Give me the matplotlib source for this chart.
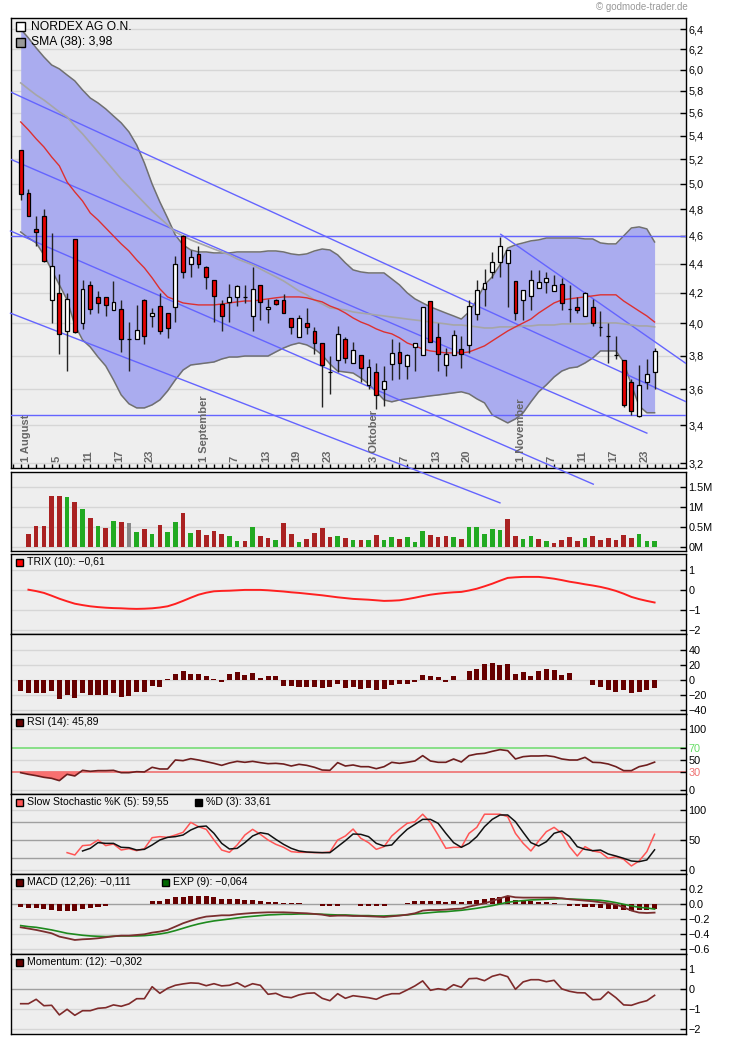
import numpy as np
import matplotlib
matplotlib.use("Agg")
import matplotlib.pyplot as plt
from matplotlib.patches import Rectangle
from matplotlib.transforms import blended_transform_factory
from matplotlib.ticker import FixedLocator, FixedFormatter, NullLocator

plt.rcParams['font.family'] = ['Liberation Sans', 'DejaVu Sans']

# ---------------------------------------------------------------- data
days = np.arange(83)

open_ = [5.28, 4.93, 4.65, 4.75, 4.15, 4.20, 3.95, 4.58, 4.00, 4.25,
         4.17, 4.17, 4.085, 4.09, 3.90, 3.90, 4.15, 4.05, 4.11, 4.07,
         4.105, 4.60, 4.40, 4.47, 4.375, 4.29, 4.125, 4.14, 4.17, 4.175,
         4.045, 4.25, 4.09, 4.155, 4.155, 4.035, 3.915, 4.00, 3.95, 3.875,
         3.70, 3.77, 3.90, 3.755, 3.805, 3.625, 3.70, 3.605, 3.75, 3.82,
         3.735, 3.85, 3.805, 4.145, 3.915, 3.74, 3.805, 3.84, 3.865, 4.06,
         4.225, 4.34, 4.41, 4.405, 4.28, 4.15, 4.18, 4.23, 4.275, 4.21,
         4.26, 4.095, 4.105, 4.05, 4.105, 3.98, 3.92, 3.805, 3.775, 3.645,
         3.45, 3.645, 3.70]
high = [5.28, 4.96, 4.75, 4.80, 4.62, 4.33, 4.20, 4.58, 4.29, 4.28,
        4.21, 4.17, 4.28, 4.15, 4.01, 4.12, 4.16, 4.10, 4.20, 4.07,
        4.455, 4.61, 4.50, 4.53, 4.385, 4.29, 4.15, 4.26, 4.25, 4.25,
        4.38, 4.25, 4.16, 4.16, 4.19, 4.035, 4.055, 4.10, 3.98, 3.875,
        3.80, 3.985, 3.915, 3.88, 3.805, 3.78, 3.755, 3.735, 3.90, 3.885,
        3.81, 3.875, 4.105, 4.145, 4.00, 3.845, 3.96, 3.92, 4.155, 4.29,
        4.36, 4.485, 4.595, 4.50, 4.28, 4.22, 4.355, 4.355, 4.34, 4.32,
        4.30, 4.255, 4.175, 4.205, 4.16, 4.08, 4.005, 3.92, 3.775, 3.66,
        3.745, 3.78, 3.845]
low = [4.87, 4.75, 4.53, 4.41, 4.00, 3.81, 3.71, 3.94, 3.965, 4.06,
       4.065, 4.05, 4.085, 3.82, 3.71, 3.90, 3.87, 3.98, 3.93, 3.91,
       4.01, 4.30, 4.31, 4.37, 4.225, 4.01, 3.95, 4.01, 4.11, 4.13,
       3.95, 4.02, 4.005, 4.12, 4.07, 3.93, 3.915, 3.93, 3.81, 3.50,
       3.575, 3.70, 3.755, 3.755, 3.645, 3.60, 3.49, 3.505, 3.655, 3.66,
       3.66, 3.705, 3.805, 3.88, 3.71, 3.675, 3.805, 3.725, 3.815, 4.02,
       4.115, 4.30, 4.31, 4.105, 4.02, 4.02, 4.085, 4.23, 4.20, 4.21,
       4.085, 4.01, 4.065, 4.05, 3.985, 3.92, 3.755, 3.78, 3.50, 3.455,
       3.445, 3.60, 3.605]
close = [4.92, 4.75, 4.63, 4.42, 4.385, 3.93, 4.16, 3.945, 4.225, 4.09,
         4.13, 4.12, 4.14, 3.90, 3.90, 3.96, 3.92, 4.07, 3.95, 3.97,
         4.40, 4.345, 4.45, 4.40, 4.31, 4.18, 4.05, 4.17, 4.245, 4.175,
         4.225, 4.14, 4.105, 4.125, 4.07, 3.975, 4.035, 3.98, 3.875, 3.745,
         3.70, 3.935, 3.785, 3.835, 3.725, 3.73, 3.57, 3.65, 3.815, 3.755,
         3.805, 3.875, 4.105, 3.88, 3.81, 3.81, 3.925, 3.81, 4.115, 4.22,
         4.27, 4.41, 4.53, 4.50, 4.07, 4.22, 4.29, 4.275, 4.30, 4.25,
         4.13, 4.095, 4.085, 4.20, 4.00, 3.98, 3.92, 3.805, 3.51, 3.475,
         3.625, 3.69, 3.825]

band_upper = [6.403, 6.311, 6.212, 6.123, 6.045, 6.007, 5.949, 5.893, 5.808, 5.734,
              5.689, 5.635, 5.572, 5.511, 5.432, 5.320, 5.169, 4.998, 4.857, 4.734,
              4.607, 4.535, 4.498, 4.484, 4.484, 4.477, 4.477, 4.477, 4.484, 4.484,
              4.484, 4.484, 4.491, 4.491, 4.484, 4.470, 4.463, 4.470, 4.491, 4.505,
              4.498, 4.463, 4.406, 4.357, 4.343, 4.336, 4.336, 4.336, 4.295, 4.254,
              4.200, 4.160, 4.133, 4.107, 4.087, 4.067, 4.048, 4.028, 4.074, 4.153,
              4.254, 4.309, 4.392, 4.512, 4.535, 4.549, 4.564, 4.571, 4.585, 4.585,
              4.585, 4.585, 4.585, 4.578, 4.578, 4.549, 4.542, 4.542, 4.600, 4.659,
              4.667, 4.652, 4.556]
band_lower = [4.629, 4.585, 4.549, 4.463, 4.357, 4.254, 4.153, 3.990, 3.896, 3.852,
              3.791, 3.737, 3.655, 3.568, 3.518, 3.495, 3.495, 3.512, 3.540, 3.591,
              3.655, 3.713, 3.743, 3.749, 3.755, 3.761, 3.779, 3.791, 3.791, 3.797,
              3.797, 3.797, 3.797, 3.822, 3.846, 3.865, 3.877, 3.865, 3.840, 3.803,
              3.749, 3.707, 3.701, 3.695, 3.666, 3.632, 3.586, 3.540, 3.529, 3.540,
              3.546, 3.551, 3.557, 3.563, 3.568, 3.574, 3.580, 3.586, 3.574, 3.546,
              3.523, 3.456, 3.434, 3.412, 3.434, 3.468, 3.529, 3.586, 3.626, 3.672,
              3.707, 3.725, 3.731, 3.755, 3.785, 3.828, 3.828, 3.828, 3.761, 3.626,
              3.506, 3.468, 3.468]
sma20 = [5.519, 5.449, 5.372, 5.303, 5.219, 5.145, 5.014, 4.935, 4.864, 4.772,
         4.719, 4.659, 4.600, 4.542, 4.491, 4.427, 4.371, 4.302, 4.227, 4.173,
         4.153, 4.133, 4.126, 4.120, 4.120, 4.120, 4.126, 4.133, 4.140, 4.146,
         4.146, 4.153, 4.160, 4.167, 4.173, 4.173, 4.173, 4.167, 4.153, 4.140,
         4.113, 4.094, 4.067, 4.035, 4.009, 3.990, 3.965, 3.946, 3.934, 3.909,
         3.877, 3.859, 3.840, 3.828, 3.822, 3.816, 3.816, 3.816, 3.822, 3.840,
         3.859, 3.890, 3.921, 3.952, 3.978, 4.003, 4.028, 4.067, 4.100, 4.133,
         4.153, 4.160, 4.167, 4.173, 4.180, 4.187, 4.187, 4.187, 4.146, 4.113,
         4.080, 4.048, 4.009]
sma38 = [5.874, 5.817, 5.762, 5.716, 5.662, 5.608, 5.564, 5.484, 5.415, 5.337,
         5.261, 5.186, 5.112, 5.038, 4.975, 4.911, 4.849, 4.787, 4.734, 4.682,
         4.629, 4.600, 4.571, 4.549, 4.527, 4.505, 4.484, 4.463, 4.434, 4.413,
         4.392, 4.364, 4.336, 4.309, 4.281, 4.247, 4.213, 4.187, 4.153, 4.126,
         4.100, 4.094, 4.087, 4.074, 4.067, 4.061, 4.054, 4.048, 4.041, 4.035,
         4.028, 4.022, 4.016, 4.009, 4.003, 3.997, 3.990, 3.990, 3.984, 3.978,
         3.971, 3.971, 3.978, 3.978, 3.978, 3.984, 3.984, 3.990, 3.990, 3.990,
         3.997, 3.997, 3.997, 3.997, 4.003, 4.003, 4.003, 4.003, 3.997, 3.990,
         3.984, 3.984, 3.978]

# trend channels: (start day, start price, end day, end price)
trend_lines = [(-1.32, 5.790, 86.0, 3.531),
               (-1.32, 5.200, 81.0, 3.357),
               (62.1, 4.612, 86.0, 3.754)]
trend_lines_free = [(-1.32, 4.066, 62.0, 3.003),
                    (-1.32, 4.637, 74.07, 3.094)]
levels = [4.60, 3.455]

volume_m = [np.nan,
            0.317, 0.517, 0.517, 1.267, 1.267, 1.242, 1.117, 0.942, 0.717, 0.517,
            0.467, 0.642, 0.617, 0.592, 0.367, 0.442, 0.317, 0.542, 0.367, 0.617,
            0.842, 0.342, 0.417, 0.292, 0.392, 0.317, 0.267, 0.142, 0.142, 0.492,
            0.267, 0.217, 0.167, 0.592, 0.317, 0.117, 0.192, 0.342, 0.467, 0.242,
            0.267, 0.217, 0.167, 0.167, 0.167, 0.292, 0.167, 0.242, 0.192, 0.242,
            0.117, 0.392, 0.292, 0.242, 0.267, 0.242, 0.192, 0.492, 0.492, 0.317,
            0.442, 0.417, 0.692, 0.267, 0.192, 0.267, 0.192, 0.142, 0.092, 0.167,
            0.242, 0.142, 0.217, 0.267, 0.167, 0.217, 0.167, 0.292, 0.217, 0.317,
            0.142, 0.142]
volume_dir = ("rrrrrgrgrg" "rgrngrgrgg" "rgrrrrggrg" "rrgrrgrrrr" "grgrgrggrg"
              "ggrrrgrggg" "ggrrggrgrr" "rrgrrrrrrg" "gg")

trix = [np.nan,
        0.03, -0.04, -0.13, -0.27, -0.42, -0.55, -0.67, -0.74, -0.80, -0.84,
        -0.87, -0.89, -0.90, -0.92, -0.93, -0.92, -0.90, -0.86, -0.80, -0.68,
        -0.53, -0.37, -0.22, -0.12, -0.05, -0.03, -0.02, 0.00, 0.02, 0.02,
        0.02, 0.00, -0.03, -0.06, -0.10, -0.13, -0.17, -0.21, -0.25, -0.30,
        -0.35, -0.39, -0.43, -0.45, -0.47, -0.50, -0.53, -0.52, -0.50, -0.44,
        -0.37, -0.29, -0.22, -0.17, -0.13, -0.10, -0.08, -0.01, 0.08, 0.20,
        0.33, 0.48, 0.62, 0.65, 0.67, 0.67, 0.67, 0.63, 0.58, 0.51,
        0.43, 0.37, 0.30, 0.24, 0.17, 0.08, -0.03, -0.17, -0.33, -0.44,
        -0.53, -0.61]
trix_hist = [-14.2, -17.8, -17.8, -17.8, -14.2, -24.9, -19.6, -23.6, -17.8, -20.4,
             -20.4, -19.6, -17.8, -22.2, -20.9, -16.4, -15.6, -7.6, -8.9, 1.8,
             7.6, 12.0, 8.0, 8.0, 5.3, 1.8, -2.2, 8.4, 10.7, 6.7,
             9.3, 3.1, 4.9, 4.9, -7.6, -7.6, -8.9, -8.9, -9.8, -10.2,
             -8.9, -5.3, -10.2, -8.9, -11.6, -10.7, -13.3, -11.6, -6.2, -5.8,
             -4.9, -2.2, 6.2, 4.9, 4.0, -3.1, 5.3, 0.0, 12.4, 14.7,
             20.9, 23.1, 20.4, 21.8, 8.4, 10.7, 5.3, 12.0, 14.7, 13.3,
             6.7, 9.8, 0.0, 0.0, -6.2, -8.9, -13.3, -15.6, -13.3, -16.9,
             -15.6, -13.3, -10.2]

rsi = [28.5, 25.8, 23.6, 20.9, 19.2, 15.4, 25.8, 23.1, 32.4, 30.8,
       31.9, 31.9, 32.4, 28.5, 28.5, 30.2, 29.7, 37.4, 34.6, 34.6,
       49.4, 48.3, 51.6, 49.4, 46.7, 43.9, 40.6, 44.5, 47.2, 45.6,
       47.2, 45.1, 43.4, 43.9, 42.8, 39.5, 42.3, 40.6, 37.4, 32.9,
       32.4, 45.1, 39.5, 41.2, 38.4, 38.4, 35.1, 38.4, 45.6, 43.9,
       45.6, 47.8, 56.6, 47.8, 45.6, 45.6, 51.1, 46.1, 56.6, 59.3,
       60.4, 63.7, 66.5, 64.8, 51.1, 54.9, 56.0, 56.0, 56.6, 54.9,
       51.1, 49.4, 49.4, 53.8, 45.6, 45.1, 42.8, 38.4, 31.9, 31.9,
       38.4, 41.2, 45.89]

nan6 = [np.nan] * 6
stoch_k = nan6 + [28.9, 25.0, 40.6, 41.7,
                  50.0, 40.6, 43.3, 33.3, 35.6, 32.2, 35.6, 53.9, 55.6, 54.4,
                  58.3, 62.8, 79.4, 72.2, 67.8, 50.0, 33.3, 29.4, 41.7, 58.3,
                  67.8, 59.4, 50.0, 42.8, 37.8, 30.6, 29.4, 29.4, 28.9, 28.9,
                  30.0, 50.0, 56.7, 68.3, 52.8, 45.6, 34.4, 38.9, 56.7, 67.8,
                  77.8, 80.6, 93.0, 79.4, 58.3, 36.1, 37.8, 37.8, 61.1, 71.1,
                  93.0, 93.0, 93.0, 88.9, 61.1, 44.4, 31.7, 48.3, 63.9, 71.1,
                  61.1, 38.9, 23.3, 38.9, 31.7, 29.4, 19.4, 22.2, 17.8, 6.7,
                  15.0, 30.6, 59.55]
stoch_d = nan6 + [np.nan, np.nan, 31.7, 36.1,
                  45.6, 44.4, 44.4, 37.8, 37.2, 33.3, 34.4, 41.7, 50.0, 54.4,
                  55.6, 58.3, 66.7, 72.2, 73.3, 61.1, 44.4, 35.0, 36.1, 45.6,
                  56.7, 62.2, 60.0, 51.1, 42.8, 36.1, 31.7, 30.0, 29.4, 28.9,
                  28.9, 38.9, 48.9, 60.0, 59.4, 55.6, 44.4, 40.0, 41.7, 55.6,
                  67.8, 76.1, 84.4, 84.4, 77.8, 61.1, 45.6, 37.8, 44.4, 55.6,
                  72.2, 84.4, 91.7, 91.7, 80.6, 62.8, 45.6, 40.0, 47.2, 61.1,
                  65.0, 55.6, 38.9, 34.4, 32.2, 33.3, 26.7, 23.3, 19.4, 15.0,
                  13.9, 16.7, 33.61]

macd = [-0.307, -0.324, -0.342, -0.364, -0.387, -0.431, -0.453, -0.476, -0.467, -0.462,
        -0.453, -0.440, -0.427, -0.418, -0.418, -0.409, -0.400, -0.378, -0.364, -0.342,
        -0.298, -0.253, -0.218, -0.187, -0.164, -0.156, -0.147, -0.147, -0.133, -0.124,
        -0.116, -0.111, -0.107, -0.107, -0.107, -0.111, -0.116, -0.120, -0.129, -0.138,
        -0.156, -0.151, -0.151, -0.156, -0.156, -0.160, -0.164, -0.169, -0.160, -0.151,
        -0.138, -0.120, -0.084, -0.076, -0.076, -0.071, -0.062, -0.058, -0.031, -0.009,
        0.013, 0.044, 0.080, 0.111, 0.093, 0.089, 0.089, 0.089, 0.089, 0.089,
        0.080, 0.067, 0.058, 0.049, 0.040, 0.027, 0.013, -0.004, -0.040, -0.084,
        -0.111, -0.116, -0.111]
macd_signal = [-0.284, -0.298, -0.307, -0.324, -0.342, -0.364, -0.387, -0.400, -0.413, -0.422,
               -0.427, -0.431, -0.427, -0.422, -0.422, -0.422, -0.418, -0.409, -0.396, -0.378,
               -0.351, -0.320, -0.289, -0.262, -0.240, -0.222, -0.209, -0.196, -0.182, -0.169,
               -0.160, -0.151, -0.142, -0.138, -0.133, -0.133, -0.129, -0.129, -0.129, -0.133,
               -0.138, -0.142, -0.142, -0.147, -0.151, -0.151, -0.156, -0.156, -0.151, -0.147,
               -0.142, -0.129, -0.120, -0.111, -0.102, -0.098, -0.089, -0.080, -0.067, -0.053,
               -0.036, -0.018, 0.004, 0.027, 0.040, 0.049, 0.058, 0.062, 0.067, 0.071,
               0.076, 0.071, 0.067, 0.062, 0.058, 0.053, 0.040, 0.022, 0.000, -0.022,
               -0.040, -0.049, -0.064]
macd_hist = [-0.031, -0.044, -0.053, -0.062, -0.071, -0.084, -0.084, -0.084, -0.062, -0.044,
             -0.031, -0.018, 0.0, 0.0, 0.0, 0.010, 0.010, 0.044, 0.044, 0.067,
             0.093, 0.102, 0.111, 0.111, 0.111, 0.093, 0.076, 0.076, 0.067, 0.058,
             0.053, 0.044, 0.036, 0.027, 0.022, 0.013, 0.013, 0.0, 0.0, -0.022,
             -0.022, -0.022, 0.0, 0.0, -0.022, -0.022, -0.022, -0.022, 0.0, 0.0,
             0.022, 0.040, 0.044, 0.044, 0.040, 0.036, 0.040, 0.031, 0.044, 0.058,
             0.071, 0.084, 0.098, 0.111, 0.058, 0.044, 0.040, 0.031, 0.027, 0.018,
             0.0, -0.022, -0.022, -0.031, -0.040, -0.053, -0.062, -0.062, -0.076, -0.089,
             -0.080, -0.076, -0.062]

momentum = [-0.72, -0.72, -0.50, -0.82, -0.80, -1.28, -1.00, -1.30, -1.07, -1.07,
            -0.95, -0.92, -0.78, -0.85, -0.73, -0.47, -0.47, 0.13, -0.20, 0.05,
            0.20, 0.27, 0.32, 0.30, 0.18, 0.28, 0.17, 0.20, 0.33, 0.12,
            0.28, 0.20, -0.25, -0.20, -0.37, -0.42, -0.28, -0.20, -0.18, -0.45,
            -0.57, -0.22, -0.45, -0.32, -0.37, -0.42, -0.50, -0.32, -0.22, -0.22,
            -0.03, 0.17, 0.42, -0.05, 0.03, -0.03, 0.23, 0.10, 0.53, 0.55,
            0.43, 0.65, 0.75, 0.63, 0.00, 0.37, 0.48, 0.48, 0.38, 0.45,
            0.02, -0.10, -0.17, -0.18, -0.52, -0.50, -0.13, -0.42, -0.78, -0.80,
            -0.67, -0.57, -0.302]

date_labels = [(0, "1 August"), (4, "5"), (8, "11"), (12, "17"), (16, "23"),
               (23, "1 September"), (27, "7"), (31, "13"), (35, "19"), (39, "23"),
               (45, "3 Oktober"), (49, "7"), (53, "13"), (57, "20"),
               (64, "1 November"), (68, "7"), (72, "11"), (76, "17"), (80, "23")]

price_ticks = [3.2, 3.4, 3.6, 3.8, 4.0, 4.2, 4.4, 4.6, 4.8, 5.0, 5.2,
               5.4, 5.6, 5.8, 6.0, 6.2, 6.4]

# ---------------------------------------------------------------- layout
W, H = 730, 1044
fig = plt.figure(figsize=(W / 100, H / 100), dpi=100)
fig.patch.set_facecolor('white')

PX_L, PX_R = 10.5, 685.5
XLIM = (-1.32, 86.0)
GRID = '#D6D6D6'
DARKRED = '#660000'


def panel(top, bottom, ylim, ticks, labels, z=1, log=False):
    ax = fig.add_axes([PX_L / W, 1 - bottom / H, (PX_R - PX_L) / W, (bottom - top) / H],
                      zorder=z)
    ax.set_facecolor('#EEEEEE')
    if log:
        ax.set_yscale('log')
    ax.set_xlim(*XLIM)
    ax.set_ylim(*ylim)
    ax.yaxis.tick_right()
    ax.yaxis.set_major_locator(FixedLocator(ticks))
    ax.yaxis.set_major_formatter(FixedFormatter(labels))
    ax.yaxis.set_minor_locator(NullLocator())
    ax.tick_params(axis='y', which='major', direction='in', length=4, width=1,
                   pad=2, labelsize=7.8, colors='black')
    ax.tick_params(axis='y', which='minor', length=0)
    ax.set_xticks([])
    for s in ax.spines.values():
        s.set_linewidth(1)
        s.set_color('black')
    return ax


def grid(ax, values, color=GRID, lw=1.0):
    for v in values:
        ax.axhline(v, color=color, lw=lw, zorder=0.5)


def legend_item(x, yc, size, face, text, fs):
    fig.add_artist(Rectangle((x / W, 1 - (yc + size / 2) / H), size / W, size / H,
                             transform=fig.transFigure, facecolor=face,
                             edgecolor='black', lw=1, zorder=20))
    fig.text((x + size + (6 if size > 8 else 4.4)) / W, 1 - yc / H, text,
             ha='left', va='center', fontsize=fs, color='black', zorder=20)


def fmt_comma(v, nd=1):
    return f"{v:.{nd}f}".replace('.', ',').replace('-', '\u2212')


def fmt_minus(v, nd=0):
    return f"{v:.{nd}f}".replace('-', '\u2212')


# ---------------------------------------------------------------- price panel
ax = panel(18, 468, (3.175, 6.516), price_ticks,
           [fmt_comma(t) for t in price_ticks], z=5, log=True)
grid(ax, price_ticks)

ax.fill_between(days, band_lower, band_upper, color='#AAACEF', lw=0, zorder=2)
ax.plot(days, band_upper, color='#707070', lw=1.1, zorder=2.2)
ax.plot(days, band_lower, color='#707070', lw=1.1, zorder=2.2)

for lv in levels:
    ax.axhline(lv, color='#6464FF', lw=1, zorder=3)
for x0, p0, x1, p1 in trend_lines:
    ax.plot([x0, x1], [p0, p1], color='#6464FF', lw=1, zorder=3)
for x0, p0, x1, p1 in trend_lines_free:
    ax.plot([x0, x1], [p0, p1], color='#6464FF', lw=1, zorder=3, clip_on=False)

ax.plot(days, sma38, color='#A6A6A6', lw=1.2, zorder=3.5)
ax.plot(days, sma20, color='#DD3030', lw=1.0, zorder=3.6)

o, hi, lo, c = map(np.asarray, (open_, high, low, close))
ax.vlines(days, lo, hi, color='#222222', lw=1, zorder=6)
body_lo = np.minimum(o, c)
body_hi = np.maximum(o, c)
body_col = np.where(c > o, 'white', np.where(c < o, '#E60000', 'black'))
ax.bar(days, body_hi - body_lo, bottom=body_lo, width=0.5, color=body_col,
       edgecolor='black', linewidth=0.9, zorder=7)

ax.set_xticks(np.arange(-1, 86), minor=True)
ax.tick_params(axis='x', which='minor', direction='in', length=3, width=1,
               bottom=True, top=False, labelbottom=False, color='black')

tr = blended_transform_factory(ax.transData, ax.transAxes)
for d, lab in date_labels:
    ax.text(d + 0.7, 0.013, lab, rotation=90, ha='center', va='bottom',
            fontsize=8, fontweight='bold', color='#666666', transform=tr, zorder=8)

legend_item(15.7, 26.8, 9, 'white', 'NORDEX AG O.N.', 8.7)
legend_item(15.7, 42.2, 9, '#999999', 'SMA (38): 3,98', 8.7)
fig.text(688 / W, 1 - 7 / H, '\u00a9 godmode-trader.de', ha='right', va='center',
         fontsize=7, color='#999999')

# ---------------------------------------------------------------- volume
vt = [0, 0.5, 1.0, 1.5]
axv = panel(471.5, 551, (-0.107, 1.89), vt, ['0M', '0.5M', '1M', '1.5M'], z=1)
grid(axv, vt)
vmap = {'r': '#AA2222', 'g': '#22AA22', 'n': '#888888'}
axv.bar(days[1:], volume_m[1:], width=0.6, color=[vmap[ch] for ch in volume_dir], zorder=3)

# ---------------------------------------------------------------- TRIX
tt = [-2, -1, 0, 1]
axt = panel(554.3, 634.3, (-2.2, 1.8), tt, [fmt_minus(t) for t in tt])
grid(axt, tt)
axt.plot(days, trix, color='#FF2020', lw=1.4, zorder=3)
legend_item(15.7, 562, 7, '#FF0000', 'TRIX (10): \u22120,61', 7.6)

# ---------------------------------------------------------------- TRIX histogram
ht = [-40, -20, 0, 20, 40]
axh = panel(634.3, 714.3, (-45.7, 60.9), ht, [fmt_minus(t) for t in ht])
grid(axh, ht)
axh.bar(days, trix_hist, width=0.65, color=DARKRED, zorder=3)

# ---------------------------------------------------------------- RSI
rt = [0, 30, 50, 70, 100]
axr = panel(714.3, 794.3, (-7.1, 124.7), rt, [str(t) for t in rt])
grid(axr, [0, 50, 100])
axr.axhline(70, color='#77DD77', lw=1.2, zorder=1)
axr.axhline(30, color='#EE7070', lw=1.2, zorder=1)
rsi_a = np.asarray(rsi)
axr.fill_between(days, rsi_a, 30, where=rsi_a < 30, interpolate=True,
                 color='#F87070', lw=0, zorder=2)
axr.plot(days, rsi_a, color='#6E1E1E', lw=1.2, zorder=3)
for lab in axr.get_yticklabels():
    if lab.get_text() == '70':
        lab.set_color('#66DD66')
    elif lab.get_text() == '30':
        lab.set_color('#EE7070')
legend_item(15.7, 722, 7, DARKRED, 'RSI (14): 45,89', 7.6)

# ---------------------------------------------------------------- Stochastic
st = [0, 50, 100]
axs = panel(794.3, 874.3, (-7.2, 126.2), st, [str(t) for t in st])
grid(axs, [0, 100])
grid(axs, [20, 50, 80], color='#A0A0A0')
axs.plot(days, stoch_k, color='#FF5555', lw=1.1, zorder=3)
axs.plot(days, stoch_d, color='#111111', lw=1.1, zorder=3.1)
legend_item(15.7, 802.3, 7, '#FF5555', 'Slow Stochastic %K (5): 59,55', 7.6)
legend_item(195, 802.3, 7, 'black', '%D (3): 33,61', 7.6)

# ---------------------------------------------------------------- MACD
mt = [-0.6, -0.4, -0.2, 0.0, 0.2]
axm = panel(874.3, 954.3, (-0.667, 0.4), mt, [fmt_minus(t, 1) for t in mt])
grid(axm, [-0.6, -0.4, -0.2, 0.2])
grid(axm, [0.0], color='#A0A0A0')
axm.bar(days, macd_hist, width=0.65, color=DARKRED, zorder=2)
axm.plot(days, macd_signal, color='#1E8A1E', lw=1.2, zorder=3)
axm.plot(days, macd, color='#7A2E2E', lw=1.3, zorder=3.1)
legend_item(15.7, 882, 7, DARKRED, 'MACD (12,26): \u22120,111', 7.6)
legend_item(161.7, 882, 7, '#006600', 'EXP (9): \u22120,064', 7.6)

# ---------------------------------------------------------------- Momentum
mot = [-2, -1, 0, 1]
axo = panel(954.3, 1034.3, (-2.25, 1.75), mot, [fmt_minus(t) for t in mot])
grid(axo, [-2, -1, 1])
grid(axo, [0], color='#A0A0A0')
axo.plot(days, momentum, color='#7E2A2A', lw=1.2, zorder=3)
legend_item(15.7, 962.3, 7, DARKRED, 'Momentum: (12): \u22120,302', 7.6)

fig.savefig('out.png', dpi=100, facecolor='white')
